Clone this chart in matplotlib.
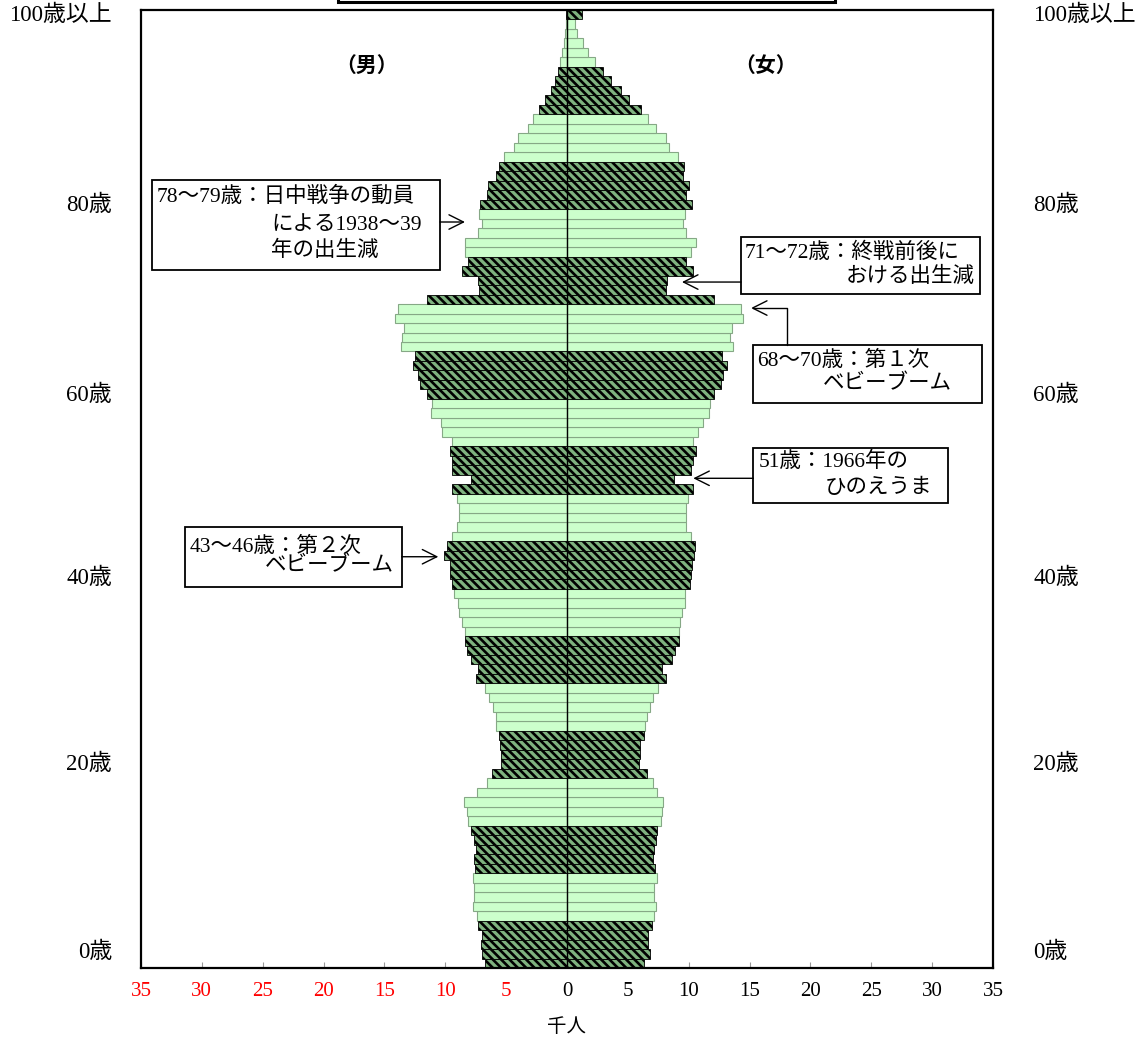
import numpy as np
import matplotlib
matplotlib.use("Agg")
import matplotlib.pyplot as plt
from matplotlib.patches import Rectangle

plt.rcParams['font.family'] = ['Liberation Serif', 'Noto Sans CJK JP']
plt.rcParams['hatch.linewidth'] = 1.9

# ---- data (thousand persons), ages 0..100+ ----
ages = np.arange(0, 101)
male = np.array([
    6.71, 6.98, 7.04, 6.98, 7.29, 7.37, 7.75, 7.62, 7.67, 7.75,
    7.53, 7.62, 7.48, 7.67, 7.89, 8.11, 8.19, 8.44, 7.37, 6.60,
    6.19, 5.42, 5.42, 5.48, 5.61, 5.86, 5.81, 6.05, 6.38, 6.71,
    7.45, 7.31, 7.86, 8.22, 8.35, 8.41, 8.60, 8.85, 8.93, 9.26,
    9.45, 9.61, 9.61, 10.08, 9.83, 9.42, 9.01, 8.85, 8.85, 9.01,
    9.48, 7.86, 9.45, 9.45, 9.61, 9.42, 10.25, 10.33, 11.15, 11.12,
    11.48, 12.08, 12.27, 12.65, 12.46, 13.67, 13.53, 13.39, 14.10, 13.86,
    11.48, 7.26, 7.31, 8.60, 8.11, 8.41, 8.35, 7.31, 6.96, 7.20,
    7.15, 6.60, 6.46, 5.83, 5.56, 5.18, 4.33, 4.00, 3.23, 2.77,
    2.33, 1.78, 1.29, 0.98, 0.71, 0.55, 0.38, 0.25, 0.16, 0.10,
    0.10])
female = np.array([
    6.35, 6.82, 6.63, 6.63, 7.01, 7.12, 7.28, 7.12, 7.18, 7.37,
    7.23, 7.09, 7.15, 7.31, 7.37, 7.70, 7.78, 7.91, 7.37, 7.09,
    6.55, 5.92, 6.03, 6.03, 6.35, 6.44, 6.55, 6.85, 7.09, 7.45,
    8.11, 7.81, 8.66, 8.90, 9.23, 9.23, 9.28, 9.42, 9.72, 9.72,
    10.08, 10.16, 10.27, 10.41, 10.52, 10.16, 9.80, 9.75, 9.80, 9.97,
    10.33, 8.79, 10.16, 10.33, 10.57, 10.33, 10.79, 11.20, 11.64, 11.78,
    12.10, 12.68, 12.79, 13.12, 12.71, 13.67, 13.39, 13.53, 14.49, 14.27,
    12.08, 8.13, 8.19, 10.33, 9.80, 10.22, 10.63, 9.80, 9.56, 9.72,
    10.30, 9.75, 10.05, 9.50, 9.60, 9.15, 8.35, 8.10, 7.28, 6.68,
    6.10, 5.07, 4.40, 3.60, 3.00, 2.27, 1.75, 1.30, 0.85, 0.63,
    1.26])

xtick_values = [-35, -30, -25, -20, -15, -10, -5, 0, 5, 10, 15, 20, 25, 30, 35]
xtick_labels = ['35', '30', '25', '20', '15', '10', '5', '0', '5', '10', '15', '20', '25', '30', '35']
age_labels = ['0歳', '20歳', '40歳', '60歳', '80歳', '100歳以上']
age_label_pos = [1.1, 21.0, 40.6, 59.9, 79.85, 99.95]

# ---- figure ----
fig = plt.figure(figsize=(11.47, 10.43), dpi=100)
ax = fig.add_axes([0.1229, 0.0719, 0.7428, 0.9185])

hatched = (ages // 5) % 2 == 0
light = ~hatched

light_kw = dict(height=1.0, facecolor='#ccffcc', edgecolor='#86a886', linewidth=0.8, zorder=2)
hatch_kw = dict(height=1.0, facecolor='#7fb27f', edgecolor='black', linewidth=0.6,
                hatch='\\\\\\\\', zorder=2)

ax.barh(ages[light], -male[light], **light_kw)
ax.barh(ages[light], female[light], **light_kw)
ax.barh(ages[hatched], -male[hatched], **hatch_kw)
ax.barh(ages[hatched], female[hatched], **hatch_kw)

ax.axvline(0, color='black', linewidth=1.0, zorder=3)

ax.set_xlim(-35, 35)
ax.set_ylim(-0.5, 100.5)
ax.set_xticks(xtick_values)
ax.set_xticklabels(xtick_labels)
for v, t in zip(xtick_values, ax.get_xticklabels()):
    t.set_color('red' if v < 0 else 'black')
ax.tick_params(axis='x', direction='in', length=4, width=0.8, color='#999999',
               pad=10, labelsize=15)
ax.set_yticks([])
for s in ax.spines.values():
    s.set_linewidth(1.6)

ytr = ax.get_yaxis_transform()
for lab, pos in zip(age_labels, age_label_pos):
    ax.text(-0.034, pos, lab, transform=ytr, ha='right', va='center', fontsize=16.5)
    ax.text(1.047, pos, lab, transform=ytr, ha='left', va='center', fontsize=16.5)

fig.text(567 / 1147, 1 - 1027 / 1043, '千人', ha='center', va='center', fontsize=14,
         family=['Noto Sans CJK JP'])

ax.text(-16.5, 94.7, '（男）', ha='center', va='center', fontsize=15, fontweight='bold',
        family=['Noto Sans CJK JP'])
ax.text(16.3, 94.7, '（女）', ha='center', va='center', fontsize=15, fontweight='bold',
        family=['Noto Sans CJK JP'])

# title box remnant at the top
fig.add_artist(Rectangle((338 / 1147, 1 - 2 / 1043), (835 - 338) / 1147, 0.05,
                         transform=fig.transFigure, facecolor='white', edgecolor='black',
                         linewidth=2.2, clip_on=False))

# ---- annotation boxes ----
def box(x0, x1, y0, y1):
    ax.add_patch(Rectangle((x0, y0), x1 - x0, y1 - y0, facecolor='white',
                           edgecolor='black', linewidth=1.3, zorder=5))

def line(x, y, s, ha='left'):
    ax.text(x, y, s, ha=ha, va='center', fontsize=15.5, zorder=6)

arrow_kw = dict(arrowstyle='->', lw=1.0, color='black', shrinkA=0, shrinkB=0,
                mutation_scale=26)

# 78-79
box(-34.1, -10.43, 73.09, 82.58)
line(-33.69, 80.79, '78〜79歳：日中戦争の動員')
line(-24.3, 77.83, 'による1938〜39')
line(-24.3, 75.09, '年の出生減')
ax.annotate('', xy=(-8.38, 78.15), xytext=(-10.43, 78.15), arrowprops=arrow_kw, zorder=6)

# 71-72
box(14.30, 33.93, 70.56, 76.57)
line(14.62, 74.88, '71〜72歳：終戦前後に')
line(33.52, 72.35, 'おける出生減', ha='right')
ax.annotate('', xy=(9.45, 71.82), xytext=(14.30, 71.82), arrowprops=arrow_kw, zorder=6)

# 68-70
box(15.26, 34.07, 59.07, 65.18)
line(15.64, 63.46, '68〜70歳：第１次')
line(31.6, 61.0, 'ベビーブーム', ha='right')
ax.annotate('', xy=(15.12, 69.08), xytext=(18.10, 65.18),
            arrowprops=dict(connectionstyle='angle,angleA=90,angleB=0,rad=0', **arrow_kw),
            zorder=6)

# 51
box(15.31, 31.33, 48.49, 54.29)
line(15.72, 52.88, '51歳：1966年の')
line(30.0, 50.07, 'ひのえうま', ha='right')
ax.annotate('', xy=(10.38, 51.13), xytext=(15.31, 51.13), arrowprops=arrow_kw, zorder=6)

# 43-46
box(-31.39, -13.58, 39.70, 46.03)
line(-31.03, 43.92, '43〜46歳：第２次')
line(-14.2, 41.81, 'ベビーブーム', ha='right')
ax.annotate('', xy=(-10.57, 42.86), xytext=(-13.58, 42.86), arrowprops=arrow_kw, zorder=6)

fig.savefig('out.png', dpi=100)
